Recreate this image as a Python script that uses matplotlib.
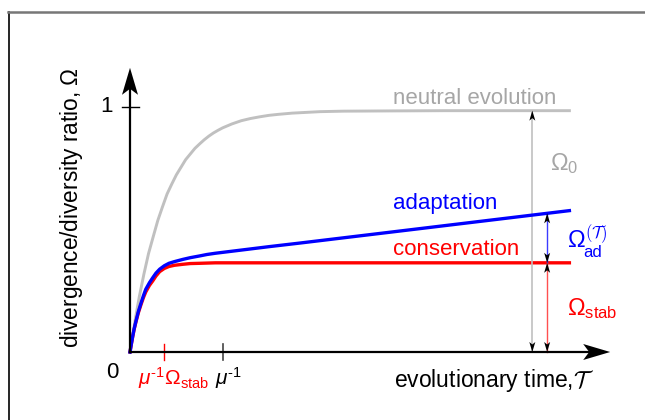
import numpy as np
import matplotlib
matplotlib.use("Agg")
import matplotlib.pyplot as plt
from matplotlib.patches import Polygon
from matplotlib.lines import Line2D

plt.rcParams["mathtext.fontset"] = "custom"
plt.rcParams["mathtext.rm"] = "Liberation Sans"
plt.rcParams["mathtext.it"] = "Liberation Sans:italic"
plt.rcParams["mathtext.bf"] = "Liberation Sans:bold"
FONT = "Liberation Sans"

# time in units of 1/mu, ratio in units of neutral (=1)
t_neutral = [0, 0.03, 0.06, 0.1, 0.15, 0.2, 0.25, 0.3, 0.35, 0.4, 0.45, 0.5, 0.55, 0.6, 0.65,
             0.7, 0.75, 0.8, 0.85, 0.9, 0.95, 1.0, 1.1, 1.2, 1.3, 1.4, 1.5, 1.6, 1.75, 1.9,
             2.05, 2.3, 2.8, 3.4, 4.0, 4.74]
om_neutral = [0, 0.07, 0.14, 0.225, 0.318, 0.402, 0.47, 0.537, 0.592, 0.645, 0.685, 0.723,
              0.754, 0.785, 0.808, 0.831, 0.849, 0.866, 0.881, 0.894, 0.905, 0.915, 0.931,
              0.944, 0.953, 0.960, 0.966, 0.970, 0.975, 0.978, 0.981, 0.983, 0.984, 0.985,
              0.985, 0.985]

t_adapt = [0, 0.015, 0.03, 0.045, 0.065, 0.09, 0.12, 0.145, 0.17, 0.21, 0.245, 0.28, 0.32,
           0.37, 0.42, 0.48, 0.57, 0.65, 0.75, 0.83, 0.92, 1.2, 1.5, 1.84, 4.74]
om_adapt = [0, 0.034, 0.066, 0.095, 0.127, 0.165, 0.201, 0.23, 0.256, 0.283, 0.303, 0.322,
            0.338, 0.352, 0.362, 0.369, 0.378, 0.385, 0.392, 0.398, 0.403, 0.416, 0.430,
            0.445, 0.577]

t_cons = [0, 0.015, 0.03, 0.045, 0.065, 0.09, 0.12, 0.145, 0.17, 0.21, 0.245, 0.28, 0.32,
          0.37, 0.42, 0.48, 0.57, 0.65, 0.75, 0.92, 1.5, 4.74]
om_cons = [0, 0.033, 0.064, 0.093, 0.124, 0.16, 0.195, 0.222, 0.245, 0.272, 0.29, 0.31,
           0.328, 0.341, 0.349, 0.354, 0.358, 0.361, 0.362, 0.364, 0.364, 0.364]

omega_stab = 0.364
t_gray_bar = 4.34
t_col_bar = 4.50

# pixel scale of the canvas (figure = 645 x 420 px)
PX_X, PX_Y = 92.7, 245.0
X0, Y0 = 130, 352
sx, sy = 1 / PX_X, 1 / PX_Y

fig = plt.figure(figsize=(6.45, 4.2), dpi=100)
ax = fig.add_axes([0, 0, 1, 1])
ax.set_xlim(-X0 / PX_X, (645 - X0) / PX_X)
ax.set_ylim(-(420 - Y0) / PX_Y, Y0 / PX_Y)
ax.axis("off")

# frame remnants
fig.add_artist(Line2D([9 / 645, 9 / 645], [0, 1 - 12 / 420], color="black", lw=1.2))
fig.add_artist(Line2D([8 / 645, 1], [1 - 12 / 420, 1 - 12 / 420], color="#777777", lw=1.8))


def head(x, y, d, L, W, notch, color="black"):
    if d == "up":
        pts = [(x, y), (x - W / 2 * sx, y - L * sy), (x, y - (L - notch) * sy), (x + W / 2 * sx, y - L * sy)]
    elif d == "down":
        pts = [(x, y), (x - W / 2 * sx, y + L * sy), (x, y + (L - notch) * sy), (x + W / 2 * sx, y + L * sy)]
    else:
        pts = [(x, y), (x - L * sx, y + W / 2 * sy), (x - (L - notch) * sx, y), (x - L * sx, y - W / 2 * sy)]
    ax.add_patch(Polygon(pts, closed=True, color=color, lw=0, zorder=6))


# axes with arrows
x_end, y_end = 5.18, 1.16
ax.plot([0, x_end - 20 * sx], [0, 0], color="black", lw=1.6, zorder=5)
ax.plot([0, 0], [0, y_end - 20 * sy], color="black", lw=1.6, zorder=5)
head(x_end, 0, "right", 27, 16, 6)
head(0, y_end, "up", 27, 16, 6)

# ticks
ax.plot([-8 * sx, 9 * sx], [1, 1], color="black", lw=1.0)
ax.plot([omega_stab, omega_stab], [-8 * sy, 8 * sy], color="red", lw=1.0)
ax.plot([1, 1], [-8 * sy, 8 * sy], color="#444444", lw=1.2)

# curves
ax.plot(t_neutral, om_neutral, color="#c0c0c0", lw=2.1, zorder=2, solid_joinstyle="round")
ax.plot(t_cons, om_cons, color="#ff0000", lw=2.4, zorder=3, solid_joinstyle="round")
ax.plot(t_adapt, om_adapt, color="#0000ff", lw=2.4, zorder=4, solid_joinstyle="round")

# double-headed measure bars
top_gray = np.interp(t_gray_bar, t_neutral, om_neutral)
top_blue = np.interp(t_col_bar, t_adapt, om_adapt)
ax.plot([t_gray_bar] * 2, [0, top_gray], color="#c0c0c0", lw=1.2, zorder=3)
ax.plot([t_col_bar] * 2, [omega_stab, top_blue], color="#3b3bff", lw=1.0, zorder=3)
ax.plot([t_col_bar] * 2, [0, omega_stab], color="#ff5050", lw=1.0, zorder=3)
for xb, lo, hi in [(t_gray_bar, 0, top_gray), (t_col_bar, omega_stab, top_blue), (t_col_bar, 0, omega_stab)]:
    head(xb, hi, "up", 10, 6, 2.5)
    head(xb, lo, "down", 10, 6, 2.5)

# curve labels
ax.text(2.84, 1.012, "neutral evolution", color="#a6a6a6", fontsize=16, family=FONT)
ax.text(2.84, 0.584, "adaptation", color="#0000ff", fontsize=16, family=FONT)
ax.text(2.84, 0.396, "conservation", color="#ff0000", fontsize=16, family=FONT)

ax.text((550 - X0) * sx, 0.743, r"$\Omega_0$", color="#a6a6a6", fontsize=17, family=FONT)
ax.text((567 - X0) * sx, (Y0 - 247) * sy, r"$\Omega$", color="#0000ff", fontsize=17, family=FONT)
ax.text((583 - X0) * sx, (Y0 - 257) * sy, "ad", color="#0000ff", fontsize=12, family=FONT)
ax.text((585 - X0) * sx, (Y0 - 238) * sy, r"$(\mathcal{T})$", color="#0000ff", fontsize=12,
        math_fontfamily="cm")
ax.text((567 - X0) * sx, 0.151, r"$\Omega_{\rm stab}$", color="#ff0000", fontsize=17, family=FONT)

# tick labels
ax.text(-17 * sx, 1, "1", fontsize=16, family=FONT, ha="right", va="center")
ax.text(-18 * sx, -20.5 * sy, "0", fontsize=16, family=FONT, ha="center", va="center")
ax.text(-(X0 - 138) * sx, -(385 - Y0) * sy, r"$\mu^{\text{-}1}\Omega_{\rm stab}$", color="red",
        fontsize=15, family=FONT, ha="left", va="baseline")
ax.text(-(X0 - 215) * sx, -(385 - Y0) * sy, r"$\mu^{\text{-}1}$", fontsize=15, family=FONT,
        ha="left", va="baseline")

# axis labels
ax.text((394 - X0) * sx, -(387 - Y0) * sy, r"evolutionary time,$\mathcal{T}$", fontsize=16.5,
        family=FONT, math_fontfamily="cm")
ax.text((72 - X0) * sx, (Y0 - 208) * sy, r"divergence/diversity ratio, $\Omega$", fontsize=16.3,
        family=FONT, rotation=90, ha="center", va="center")

fig.savefig("out.png", dpi=100)
